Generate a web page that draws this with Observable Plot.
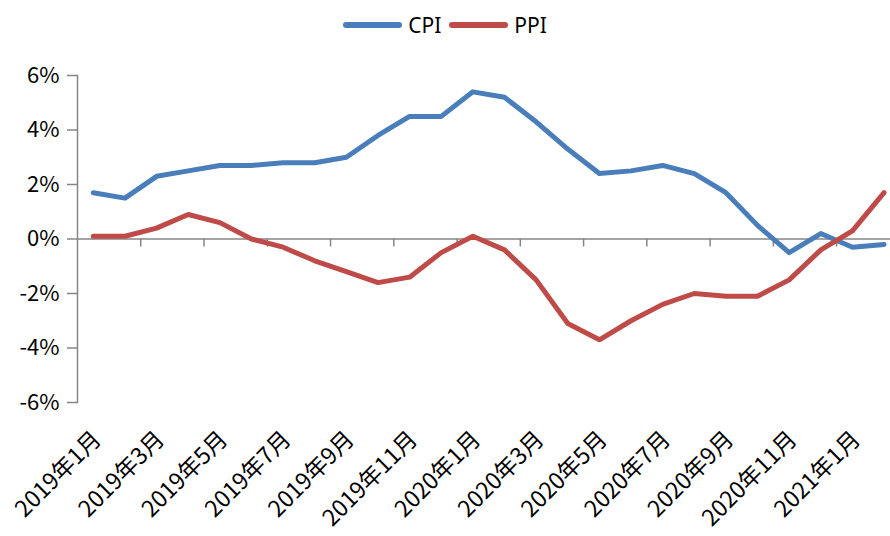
<!DOCTYPE html>
<html>
<head>
<meta charset="utf-8">
<script src="https://cdn.jsdelivr.net/npm/d3@7"></script>
<script src="https://cdn.jsdelivr.net/npm/@observablehq/plot@0.6"></script>
<style>
  html, body { margin: 0; padding: 0; background: #fff; }
  #legend { height: 50px; display: flex; justify-content: center; align-items: center; font-family: "Noto Sans", sans-serif; font-size: 21px; color: #000; padding-left: 0; box-sizing: border-box; }
  .sw { display: inline-block; width: 59px; height: 6px; border-radius: 3px; margin-right: 6px; }
  .item { display: flex; align-items: center; margin: 0 4px; }
  svg { display: block; }
</style>
</head>
<body>
<div id="legend"></div>
<div id="chart"></div>
<script>
const months = ["2019年1月","2019年2月","2019年3月","2019年4月","2019年5月","2019年6月","2019年7月","2019年8月","2019年9月","2019年10月","2019年11月","2019年12月",
  "2020年1月","2020年2月","2020年3月","2020年4月","2020年5月","2020年6月","2020年7月","2020年8月","2020年9月","2020年10月","2020年11月","2020年12月",
  "2021年1月","2021年2月"];
const cpi = [1.7, 1.5, 2.3, 2.5, 2.7, 2.7, 2.8, 2.8, 3.0, 3.8, 4.5, 4.5, 5.4, 5.2, 4.3, 3.3, 2.4, 2.5, 2.7, 2.4, 1.7, 0.5, -0.5, 0.2, -0.3, -0.2];
const ppi = [0.1, 0.1, 0.4, 0.9, 0.6, 0.0, -0.3, -0.8, -1.2, -1.6, -1.4, -0.5, 0.1, -0.4, -1.5, -3.1, -3.7, -3.0, -2.4, -2.0, -2.1, -2.1, -1.5, -0.4, 0.3, 1.7];
const yTicks = [-6, -4, -2, 0, 2, 4, 6];
const series = [
  {name: "CPI", values: cpi, color: "#4A7EBB"},
  {name: "PPI", values: ppi, color: "#BE4B48"}
];

const labelIdx = months.map((m, i) => i).filter(i => i % 2 === 0);
const tickIdx = labelIdx.slice(1).map(i => i - 0.5);

const legend = document.getElementById("legend");
for (const s of series) {
  const it = document.createElement("span");
  it.className = "item";
  it.innerHTML = `<span class="sw" style="background:${s.color}"></span><span>${s.name}</span>`;
  legend.appendChild(it);
}

const rows = series.flatMap(s => s.values.map((v, i) => ({name: s.name, i, v})));
const gray = "#868686";
const tickFont = "'Noto Sans CJK SC', 'Noto Sans', sans-serif";

const chart = Plot.plot({
  width: 890,
  height: 486,
  marginTop: 25,
  marginBottom: 134,
  marginLeft: 77,
  marginRight: 0,
  style: {background: "#fff", color: "#000"},
  x: {type: "linear", domain: [-0.5, months.length - 0.5], range: [77, 77 + months.length * 31.63]},
  y: {domain: [-6, 6]},
  color: {domain: series.map(s => s.name), range: series.map(s => s.color)},
  marks: [
    Plot.frame({anchor: "left", stroke: gray, strokeWidth: 1.5}),
    Plot.ruleY([0], {stroke: gray, strokeWidth: 1.5}),
    Plot.ruleX(tickIdx, {x: d => d, y1: 0, y2: 0, insetTop: 0, insetBottom: -8, stroke: gray, strokeWidth: 1.5}),
    Plot.axisY(yTicks, {tickFormat: d => d + "%", tickSize: 10, tickPadding: 8, fontSize: 22, fontFamily: tickFont, stroke: gray, strokeWidth: 1.5, fill: "#000", label: null}),
    Plot.axisX(labelIdx, {tickFormat: i => months[i], tickRotate: -45, tickSize: 0, tickPadding: 33, dx: 4, fontSize: 23, fontFamily: tickFont, fill: "#000", label: null}),
    Plot.line(rows, {x: "i", y: "v", z: "name", stroke: "name", strokeWidth: 5, strokeLinejoin: "round", strokeLinecap: "round"})
  ]
});
document.getElementById("chart").appendChild(chart);
</script>
</body>
</html>
